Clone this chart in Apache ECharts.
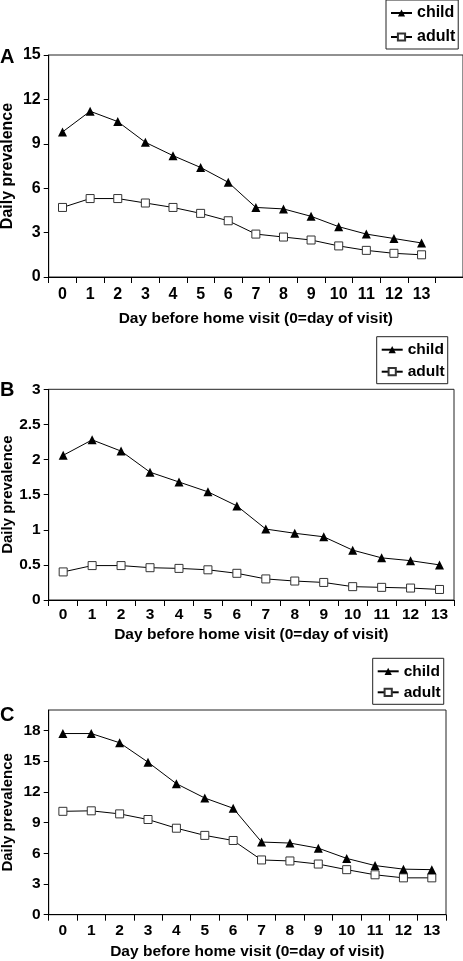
<!DOCTYPE html>
<html>
<head>
<meta charset="utf-8">
<script src="https://cdn.jsdelivr.net/npm/echarts@6/dist/echarts.min.js"></script>
<style>
html,body{margin:0;padding:0;background:#fff;}
#chart{width:463px;height:961px;}
</style>
</head>
<body>
<div id="chart"></div>
<script>
// ---- data ----
const days = ['0','1','2','3','4','5','6','7','8','9','10','11','12','13'];
const daysA = ['0','1','2','3','4','5','6','7','8','9','10','11','12','13',''];
const childA = [9.8, 11.2, 10.5, 9.1, 8.2, 7.4, 6.4, 4.7, 4.6, 4.1, 3.4, 2.9, 2.6, 2.3];
const adultA = [4.7, 5.3, 5.3, 5.0, 4.7, 4.3, 3.8, 2.9, 2.7, 2.5, 2.1, 1.8, 1.6, 1.5];
const childB = [2.06, 2.28, 2.12, 1.82, 1.68, 1.54, 1.34, 1.01, 0.95, 0.9, 0.71, 0.6, 0.56, 0.5];
const adultB = [0.4, 0.49, 0.49, 0.46, 0.45, 0.43, 0.38, 0.3, 0.27, 0.25, 0.19, 0.18, 0.17, 0.15];
const childC = [17.7, 17.7, 16.8, 14.9, 12.8, 11.4, 10.4, 7.1, 7.0, 6.5, 5.5, 4.8, 4.45, 4.4];
const adultC = [10.1, 10.15, 9.85, 9.3, 8.45, 7.75, 7.25, 5.35, 5.25, 4.95, 4.4, 3.9, 3.6, 3.6];
const ticksC = [0, 3, 6, 9, 12, 15, 18];
const seriesNames = ['child', 'adult'];
const panelLetters = ['A', 'B', 'C'];
const xTitle = 'Day before home visit (0=day of visit)';
const yTitle = 'Daily prevalence';

// ---- styles ----
const FF = 'Liberation Sans, Arial, Helvetica, sans-serif';
const grids = [
  {left: 48.7, top: 55, width: 414.3, height: 222},
  {left: 48.7, top: 389.3, width: 405.3, height: 210.7},
  {left: 48.7, top: 710, width: 397.3, height: 204.7}
];
const xMargins = [9.5, 7, 8.5];
const xNameGaps = [33.5, 27, 29.5];
const tickFont = [16, 15.5, 15.5];
const yNameFont = [16, 15, 15];
const legendPos = [
  {left: 386, top: 0, fs: 16, gap: 8},
  {left: 376.7, top: 336.7, fs: 15.5, gap: 6},
  {left: 372.7, top: 658.3, fs: 15.5, gap: 5}
];
const letterTops = [47, 380, 705];

const gridOpts = grids.map(g => Object.assign({
  show: true, borderColor: '#222', borderWidth: 1, backgroundColor: 'transparent',
  containLabel: false, outerBoundsMode: 'none'
}, g));

const xAxes = [daysA, days, days].map((cats, i) => ({
  type: 'category', gridIndex: i, data: cats, boundaryGap: true,
  name: xTitle, nameLocation: 'middle', nameGap: xNameGaps[i],
  nameTextStyle: {fontFamily: FF, fontWeight: 'bold', fontSize: 15.5, color: '#000'},
  axisLine: {lineStyle: {color: '#000', width: 1}},
  axisTick: {show: true, length: 6, alignWithLabel: false, lineStyle: {color: '#000'}},
  axisLabel: {interval: 0, margin: xMargins[i], fontFamily: FF, fontWeight: 'bold', fontSize: tickFont[i], color: '#000'},
  splitLine: {show: false}
}));

const yRanges = [
  {min: 0, max: 15, interval: 3},
  {min: 0, max: 3, interval: 0.5},
  {min: 0, max: 20, interval: 1}
];
const yAxes = yRanges.map((r, i) => {
  const ax = {
    type: 'value', gridIndex: i, min: r.min, max: r.max, interval: r.interval,
    name: yTitle, nameLocation: 'middle', nameRotate: 90, nameGap: 33, nameMoveOverlap: false,
    nameTextStyle: {fontFamily: FF, fontWeight: 'bold', fontSize: yNameFont[i], color: '#000'},
    axisLine: {show: true, lineStyle: {color: '#000', width: 1}},
    axisTick: {show: true, length: 5, lineStyle: {color: '#000'}},
    axisLabel: {margin: 8, fontFamily: FF, fontWeight: 'bold', fontSize: tickFont[i], color: '#000'},
    splitLine: {show: false}
  };
  if (i === 2) {
    ax.axisTick.customValues = ticksC;
    ax.axisLabel.customValues = ticksC;
  }
  return ax;
});

const childStyle = {
  type: 'line', symbol: 'triangle', symbolSize: 9,
  lineStyle: {color: '#000', width: 1},
  itemStyle: {color: '#000', borderColor: '#000', borderWidth: 0},
  emphasis: {disabled: true}, animation: false, z: 3
};
const adultStyle = {
  type: 'line', symbol: 'rect', symbolSize: 8,
  lineStyle: {color: '#000', width: 1},
  itemStyle: {color: '#fff', borderColor: '#333', borderWidth: 1},
  emphasis: {disabled: true}, animation: false, z: 2
};
const panelData = [[childA, adultA], [childB, adultB], [childC, adultC]];
const series = [];
panelData.forEach((pair, i) => {
  series.push(Object.assign({}, childStyle, {name: seriesNames[0], xAxisIndex: i, yAxisIndex: i, data: pair[0]}));
  series.push(Object.assign({}, adultStyle, {name: seriesNames[1], xAxisIndex: i, yAxisIndex: i, data: pair[1]}));
});

const legends = legendPos.map(p => ({
  show: true, orient: 'vertical', left: p.left, top: p.top,
  data: seriesNames, selectedMode: false,
  borderColor: '#222', borderWidth: 1, backgroundColor: '#fff',
  padding: [5, 3, 4, 4], itemWidth: 21, itemHeight: 9, itemGap: p.gap,
  textStyle: {fontFamily: FF, fontWeight: 'bold', fontSize: p.fs, color: '#000'}
}));

const graphics = panelLetters.map((L, i) => ({
  type: 'text', left: 0, top: letterTops[i],
  style: {text: L, font: 'bold 20px ' + FF, fill: '#000'}
}));

const chart = echarts.init(document.getElementById('chart'), null, {renderer: 'canvas'});
chart.setOption({
  animation: false,
  backgroundColor: '#fff',
  grid: gridOpts,
  xAxis: xAxes,
  yAxis: yAxes,
  legend: legends,
  graphic: graphics,
  series: series
});
</script>
</body>
</html>
